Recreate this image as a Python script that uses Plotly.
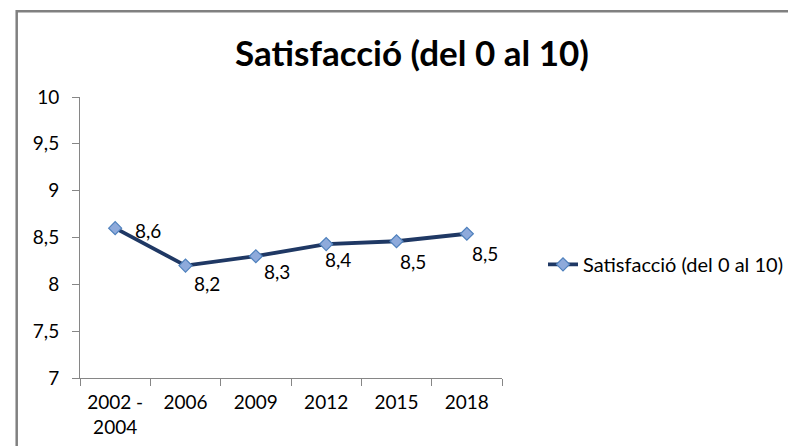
import plotly.graph_objects as go

categories = ["2002 -<br>2004", "2006", "2009", "2012", "2015", "2018"]
satisfaction = [8.6, 8.2, 8.3, 8.43, 8.46, 8.54]
series_name = "Satisfacció (del 0 al 10)"
chart_title = "Satisfacció (del 0 al 10)"
y_ticks = [7, 7.5, 8, 8.5, 9, 9.5, 10]
y_tick_labels = ["7", "7,5", "8", "8,5", "9", "9,5", "10"]

# label offsets (pixels) relative to each point
label_dx = [33, 21, 21, 12, 16, 18]
label_dy = [-2, -18, -15, -15, -20, -20]

FONT = "Lato, 'Open Sans', sans-serif"
LINE_COLOR = "#1F3864"
# page body has an 8px margin: figure is 788x438 drawn at (8, 8)
W, H = 788, 438

fig = go.Figure()
fig.add_trace(go.Scatter(
    x=categories, y=satisfaction, name=series_name,
    mode="lines+markers",
    line=dict(color=LINE_COLOR, width=3.8),
    marker=dict(symbol="diamond", size=10, color="#8EAADB",
                line=dict(color="#4F81BD", width=1.2)),
    showlegend=True,
))

annotations = []
for i, v in enumerate(satisfaction):
    annotations.append(dict(
        x=i, y=v, xref="x", yref="y",
        text=f"{v:.1f}".replace(".", ","),
        showarrow=False, xshift=label_dx[i], yshift=label_dy[i],
        font=dict(family=FONT, size=19, color="#000000"),
        xanchor="center", yanchor="middle",
    ))

fig.update_layout(
    width=W, height=H,
    margin=dict(l=72, r=294, t=89, b=68, autoexpand=False),
    paper_bgcolor="white", plot_bgcolor="white",
    font=dict(family=FONT, size=19, color="#000000"),
    title=dict(text=chart_title, x=404/W, xanchor="center",
               y=1 - 46/H, yanchor="middle",
               font=dict(family=FONT, size=35, color="#000000", weight="bold")),
    xaxis=dict(type="category", range=[-0.5, len(categories) - 0.5],
               showgrid=False, showline=True, automargin=False,
               linecolor="#868686", linewidth=1, ticks="outside",
               tickson="boundaries", ticklen=7, tickcolor="#868686",
               tickangle=0, ticklabelstandoff=7,
               tickfont=dict(family=FONT, size=19, color="#000000"),
               zeroline=False, fixedrange=True),
    yaxis=dict(range=[7, 10], tickvals=y_ticks, ticktext=y_tick_labels,
               showgrid=False, showline=True, linecolor="#868686",
               linewidth=1, ticks="outside", ticklen=7, tickcolor="#868686",
               ticklabelstandoff=9, automargin=False,
               tickfont=dict(family=FONT, size=19, color="#000000"),
               zeroline=False, fixedrange=True),
    legend=dict(x=(543-80)/422, y=(377.7-264)/281, xanchor="left",
                yanchor="middle", bgcolor="rgba(0,0,0,0)",
                font=dict(family=FONT, size=20, color="#000000")),
    annotations=annotations,
    shapes=[dict(type="rect", xref="paper", yref="paper",
                 x0=(16.7-80)/422, x1=2.0,
                 y0=-1.0, y1=(377.7-11)/281,
                 line=dict(color="#808080", width=2.5),
                 fillcolor="rgba(0,0,0,0)", layer="below")],
)

fig.write_html("out.html")
